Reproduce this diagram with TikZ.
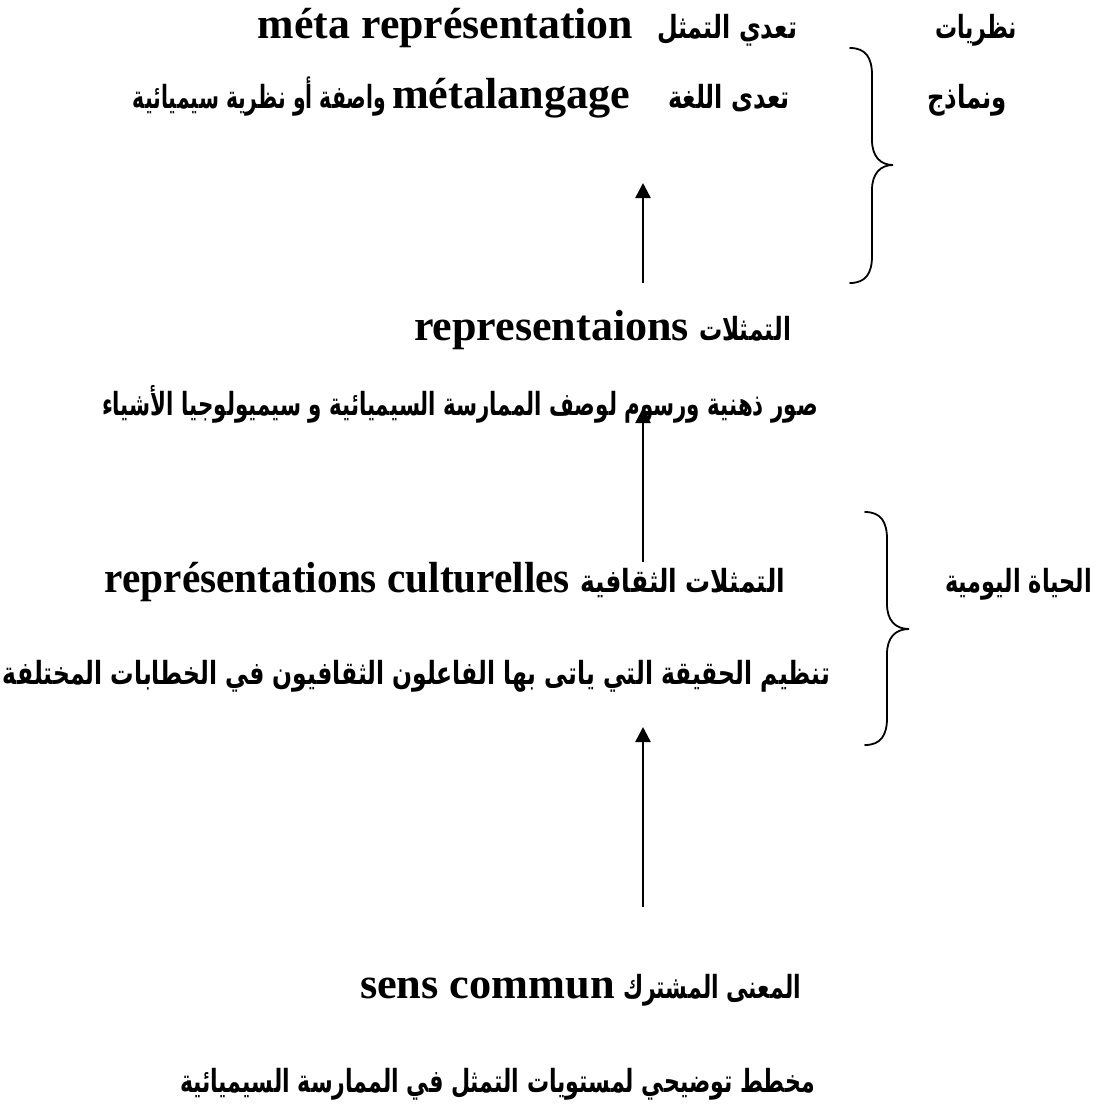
\documentclass[tikz,border=0pt]{standalone}
\usepackage{fontspec}
\usepackage{graphicx}
\setmainfont{Liberation Serif}
\newfontfamily\arabicfont[Script=Arabic]{DejaVu Sans}
\TeXXeTstate=1
\usetikzlibrary{arrows.meta}
\newsavebox\fitbox
\newcommand\fitto[2]{\sbox\fitbox{#2}\pgfmathsetmacro\fitfac{#1/\the\wd\fitbox}\scalebox{\fitfac}[1]{\usebox\fitbox}}
\newcommand\ar[1]{{\arabicfont\bfseries\fontsize{32}{38}\selectfont\beginR #1\endR}}
\newcommand\la[1]{{\bfseries\fontsize{43.7}{50}\selectfont #1}}
\tikzset{
  txt/.style={inner sep=0pt, outer sep=0pt, text=black},
  arr/.style={line width=2.5bp, -{Triangle[length=15bp,width=15bp]}},
  brace/.style={line width=1.8bp, line cap=round}
}
\begin{document}
\begin{tikzpicture}[x=1bp,y=-1bp]
\fill[white] (0,0) rectangle (1102,1115);
\useasboundingbox (0,0) rectangle (1102,1115);
% row 1
\node[txt,anchor=base east] (lat1) at (633,38) {\fitto{375bp}{\la{méta représentation}}};
\node[txt,anchor=base west] (ar1) at (657,38) {\fitto{140bp}{\ar{تعدي التمثل}}};
\node[txt,anchor=base west] (lab1) at (935,38) {\fitto{82bp}{\ar{نظريات}}};
% row 2
\node[txt,anchor=base east] (ar2a) at (386,108) {\fitto{253bp}{\ar{واصفة أو نظرية سيميائية}}};
\node[txt,anchor=base east] (lat2) at (630,108) {\fitto{238bp}{\la{métalangage}}};
\node[txt,anchor=base west] (ar2b) at (668,108) {\fitto{122bp}{\ar{تعدى اللغة}}};
\node[txt,anchor=base west] (lab2) at (927,108) {\fitto{80bp}{\ar{ونماذج}}};
% row 3
\node[txt,anchor=base east] (lat3) at (689,340) {\fitto{275bp}{\la{representaions}}};
\node[txt,anchor=base west] (ar3) at (699,340) {\fitto{92bp}{\ar{التمثلات}}};
% row 4
\node[txt,anchor=base west] (ar4) at (102,415) {\fitto{716bp}{\ar{صور ذهنية ورسوم لوصف الممارسة السيميائية و سيميولوجيا الأشياء}}};
% row 5
\node[txt,anchor=base east] (lat5) at (570,592) {\fitto{465bp}{\la{représentations culturelles}}};
\node[txt,anchor=base west] (ar5) at (580,592) {\fitto{205bp}{\ar{التمثلات الثقافية}}};
\node[txt,anchor=base west] (lab3) at (945,592) {\fitto{147bp}{\ar{الحياة اليومية}}};
% row 6
\node[txt,anchor=base west] (ar6) at (3,684) {\fitto{827bp}{\ar{تنظيم الحقيقة التي ياتى بها الفاعلون الثقافيون في الخطابات المختلفة}}};
% row 7
\node[txt,anchor=base east] (lat7) at (615,998) {\fitto{255bp}{\la{sens commun}}};
\node[txt,anchor=base west] (ar7) at (623,998) {\fitto{178bp}{\ar{المعنى المشترك}}};
% caption
\node[txt,anchor=base west] (cap) at (180,1092) {\fitto{635bp}{\ar{مخطط توضيحي لمستويات التمثل في الممارسة السيميائية}}};
% arrows
\coordinate (a1s) at (643,283); \coordinate (a1e) at (643,183);
\coordinate (a2s) at (643,562); \coordinate (a2e) at (643,408);
\coordinate (a3s) at (643,907); \coordinate (a3e) at (643,727);
\draw[arr] (a1s) -- (a1e);
\draw[arr] (a2s) -- (a2e);
\draw[arr] (a3s) -- (a3e);
% braces
\draw[brace] (850,48) .. controls (866,48) and (872,58) .. (872,75) -- (872,140)
  .. controls (872,156) and (880,165) .. (893,165)
  .. controls (880,165) and (872,174) .. (872,190) -- (872,256)
  .. controls (872,273) and (866,283) .. (850,283);
\draw[brace] (865,512) .. controls (881,512) and (887,522) .. (887,539) -- (887,604)
  .. controls (887,620) and (895,629) .. (909,629)
  .. controls (895,629) and (887,638) .. (887,654) -- (887,718)
  .. controls (887,735) and (881,745) .. (865,745);
\end{tikzpicture}
\end{document}
